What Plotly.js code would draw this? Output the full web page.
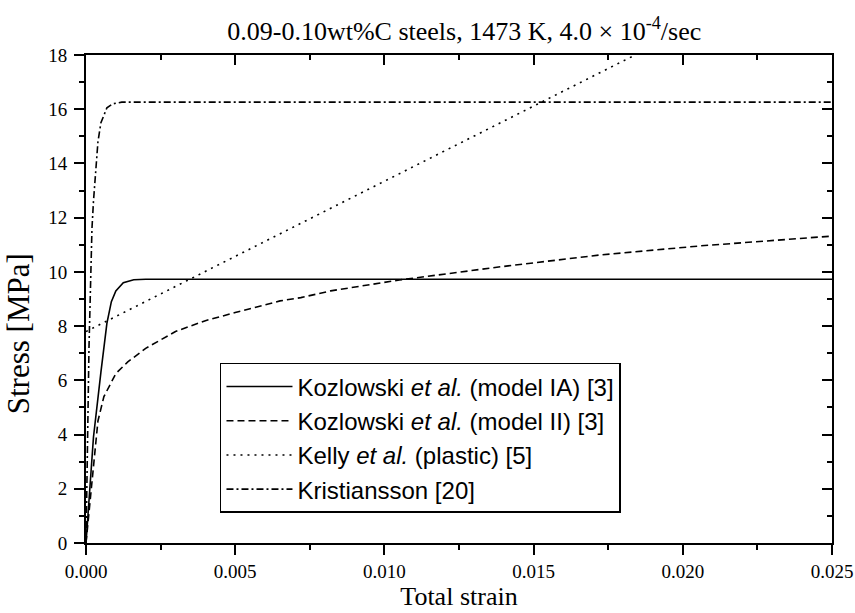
<!DOCTYPE html>
<html>
<head>
<meta charset="utf-8">
<script src="https://cdn.plot.ly/plotly-3.0.1.min.js"></script>
<style>html,body{margin:0;padding:0;background:#fff;}#chart{width:855px;height:613px;}</style>
</head>
<body>
<div id="chart"></div>
<script>
// Kozlowski et al. (model IA)
const strainIA = [0, 0.00025, 0.0005, 0.0007, 0.00085, 0.001, 0.00125, 0.0016, 0.002, 0.025];
const stressIA = [0, 3.9, 6.3, 8.1, 8.9, 9.3, 9.6, 9.71, 9.73, 9.73];
// Kozlowski et al. (model II)
const strainII = [0, 0.00025, 0.0004, 0.0006, 0.001, 0.0014, 0.002, 0.003, 0.004, 0.005, 0.0065, 0.0072, 0.0082, 0.0105, 0.0139, 0.0172, 0.0206, 0.025];
const stressII = [0, 2.9, 4.5, 5.4, 6.25, 6.68, 7.18, 7.8, 8.2, 8.5, 8.93, 9.05, 9.3, 9.7, 10.19, 10.62, 10.96, 11.32];
// Kelly et al. (plastic)
const strainKelly = [0, 0.0184];
const stressKelly = [7.8, 18.0];
// Kristiansson
const strainKr = [0, 0.0001, 0.0002, 0.00025, 0.0004, 0.0005, 0.0007, 0.0009, 0.0012, 0.025];
const stressKr = [0, 7.2, 11.6, 12.6, 14.8, 15.5, 16.05, 16.2, 16.26, 16.26];

const names = [
  'Kozlowski <i>et al.</i> (model IA) [3]',
  'Kozlowski <i>et al.</i> (model II) [3]',
  'Kelly <i>et al.</i> (plastic) [5]',
  'Kristiansson [20]'
];

const serif = 'Liberation Serif, Times New Roman, serif';
const sans = 'Liberation Sans, Arial, sans-serif';

const traces = [
  {x: strainIA, y: stressIA, name: names[0], mode: 'lines', line: {color: '#000', width: 1.6}},
  {x: strainII, y: stressII, name: names[1], mode: 'lines', line: {color: '#000', width: 1.6, dash: '7px,4px'}},
  {x: strainKelly, y: stressKelly, name: names[2], mode: 'lines', line: {color: '#000', width: 1.6, dash: '2px,5px'}},
  {x: strainKr, y: stressKr, name: names[3], mode: 'lines', line: {color: '#000', width: 1.6, dash: '7px,3px,2px,3px'}},
  {x: [], y: [], xaxis: 'x2', yaxis: 'y2', showlegend: false, hoverinfo: 'skip'}
];

const layout = {
  width: 855, height: 613,
  margin: {l: 86, r: 23, t: 55, b: 70},
  paper_bgcolor: '#fff', plot_bgcolor: '#fff',
  title: {
    text: '0.09-0.10wt%C steels, 1473 K, 4.0 × 10<sup>-4</sup>/sec',
    font: {family: serif, size: 26, color: '#000'},
    x: 0.543, xanchor: 'center', y: 0.95, yanchor: 'middle'
  },
  xaxis: {
    range: [0, 0.025], dtick: 0.005, tickformat: '.3f',
    showgrid: false, zeroline: false,
    showline: true, linewidth: 2, linecolor: '#000',
    ticks: 'outside', ticklen: 10, tickwidth: 2, tickcolor: '#000',
    minor: {dtick: 0.0025, ticks: 'outside', ticklen: 5, tickwidth: 2, tickcolor: '#000', showgrid: false},
    tickfont: {family: serif, size: 19, color: '#000'},
    title: {text: 'Total strain', font: {family: serif, size: 26, color: '#000'}, standoff: 6}
  },
  yaxis: {
    range: [0, 18], dtick: 2,
    showgrid: false, zeroline: false,
    showline: true, linewidth: 2, linecolor: '#000',
    ticks: 'outside', ticklen: 10, tickwidth: 2, tickcolor: '#000',
    minor: {dtick: 1, ticks: 'outside', ticklen: 5, tickwidth: 2, tickcolor: '#000', showgrid: false},
    tickfont: {family: serif, size: 19, color: '#000'},
    ticklabelstandoff: 3
  },
  xaxis2: {
    range: [0, 0.025], dtick: 0.005, overlaying: 'x', side: 'top', anchor: 'y2',
    showgrid: false, zeroline: false, showticklabels: false,
    showline: true, linewidth: 2, linecolor: '#000',
    ticks: 'inside', ticklen: 10, tickwidth: 2, tickcolor: '#000',
    minor: {dtick: 0.0025, ticks: 'inside', ticklen: 5, tickwidth: 2, tickcolor: '#000', showgrid: false}
  },
  yaxis2: {
    range: [0, 18], dtick: 2, overlaying: 'y', side: 'right', anchor: 'x2',
    showgrid: false, zeroline: false, showticklabels: false,
    showline: true, linewidth: 2, linecolor: '#000',
    ticks: 'inside', ticklen: 10, tickwidth: 2, tickcolor: '#000',
    minor: {dtick: 1, ticks: 'inside', ticklen: 5, tickwidth: 2, tickcolor: '#000', showgrid: false}
  },
  annotations: [{
    text: 'Stress [MPa]', textangle: -90, showarrow: false,
    xref: 'paper', yref: 'paper', x: -0.091, y: 0.428,
    xanchor: 'center', yanchor: 'middle',
    font: {family: serif, size: 31, color: '#000'}
  }],
  showlegend: true,
  legend: {
    x: 0.1796, y: 0.369, xanchor: 'left', yanchor: 'top',
    bgcolor: '#fff', bordercolor: '#000', borderwidth: 1.5,
    font: {family: sans, size: 24, color: '#000'},
    itemwidth: 66, tracegroupgap: 0
  }
};

Plotly.newPlot('chart', traces, layout, {displayModeBar: false, staticPlot: true});
</script>
</body>
</html>
